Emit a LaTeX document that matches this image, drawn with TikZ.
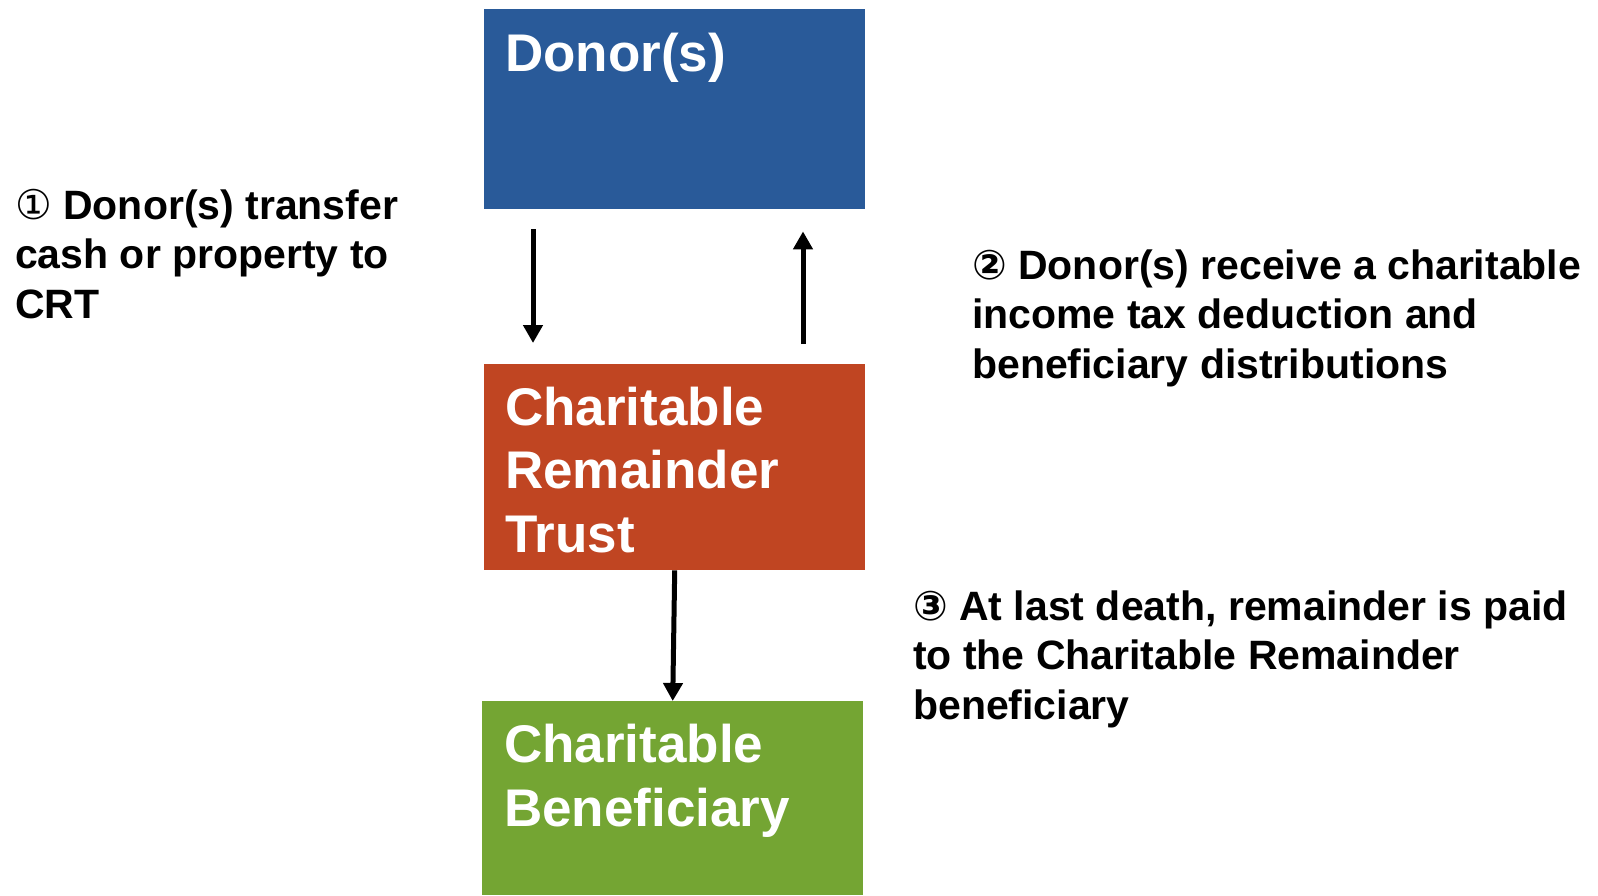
\documentclass[tikz,border=0pt]{standalone}
\usepackage{fontspec}
\setmainfont{Liberation Sans}
\newfontfamily\symfont{DejaVu Sans}
\usetikzlibrary{arrows.meta}
\definecolor{donorblue}{HTML}{295A99}
\definecolor{trustred}{HTML}{C04522}
\definecolor{benegreen}{HTML}{74A533}
\tikzset{
  box/.style={draw=none, rectangle, inner sep=0pt, minimum width=381pt, anchor=north west},
  boxtext/.style={text=white, font=\fontsize{53}{63.5}\selectfont\bfseries, align=left, anchor=base west, inner sep=0pt},
  note/.style={text=black, font=\fontsize{41}{49.5}\selectfont\bfseries, align=left, anchor=base west, inner sep=0pt},
  flow/.style={line width=5pt, -{Triangle[width=19pt,length=18pt]}},
}
\begin{document}
\begin{tikzpicture}[x=1pt,y=-1pt]
\useasboundingbox[fill=white] (0,0) rectangle (1598,895);
% boxes
\node[box, fill=donorblue, minimum height=200pt] (donor) at (484,9) {};
\node[box, fill=trustred, minimum height=206pt] (crt) at (484,364) {};
\node[box, fill=benegreen, minimum height=194pt] (bene) at (482,701) {};
% box texts (anchor = baseline of last line)
\node[boxtext] (donortxt) at (505,71) {Donor(s)};
\node[boxtext] (crttxt) at (505,552) {Charitable\\Remainder\\Trust};
\node[boxtext, font=\fontsize{53}{64}\selectfont\bfseries] (benetxt) at (504,826) {Charitable\\Beneficiary};
% notes
\node[note] (note1) at (15,318) {{\symfont\mdseries ①} Donor(s) transfer\\cash or property to\\CRT};
\node[note] (note2) at (972,378) {{\symfont ②} Donor(s) receive a charitable\\income tax deduction and\\beneficiary distributions};
\node[note] (note3) at (913,719) {{\symfont ③} At last death, remainder is paid\\to the Charitable Remainder\\beneficiary};
% arrows
\draw[flow, shorten <=20pt, shorten >=21pt] ([xshift=49pt]donor.south west) -- ([xshift=49pt]crt.north west);
\draw[flow, shorten <=20pt, shorten >=22pt] ([xshift=319pt]crt.north west) -- ([xshift=319pt]donor.south west);
\draw[flow] (crt.south) -- (bene.north);
\end{tikzpicture}
\end{document}
